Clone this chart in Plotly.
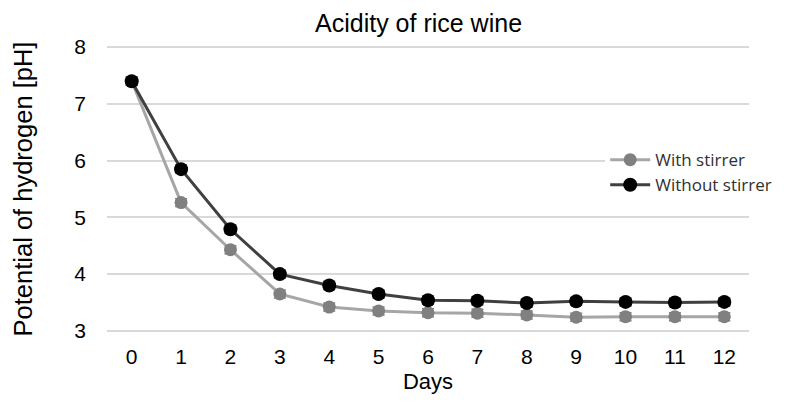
import plotly.graph_objects as go

days = list(range(13))
with_stirrer = [7.40, 5.26, 4.43, 3.65, 3.42, 3.35, 3.32, 3.31, 3.28, 3.24, 3.25, 3.25, 3.25]
without_stirrer = [7.40, 5.85, 4.79, 4.00, 3.80, 3.65, 3.54, 3.53, 3.49, 3.52, 3.51, 3.50, 3.51]
with_err = [0.07] * 13
without_err = [0.07] * 13

fig = go.Figure()
fig.add_trace(go.Scatter(
    x=days, y=with_stirrer, name="With stirrer", mode="lines+markers",
    line=dict(color="#a6a6a6", width=3),
    marker=dict(color="#808080", size=13),
    error_y=dict(type="data", array=with_err, color="#808080", thickness=1.5, width=6),
))
fig.add_trace(go.Scatter(
    x=days, y=without_stirrer, name="Without stirrer", mode="lines+markers",
    line=dict(color="#404040", width=3),
    marker=dict(color="#000000", size=14),
    error_y=dict(type="data", array=without_err, color="#404040", thickness=1.5, width=6),
))

# page body has an 8px margin: compensate so the plot lands at the reference position
fig.update_layout(
    width=779, height=397,
    margin=dict(l=99, r=38, t=38, b=73, autoexpand=False),
    paper_bgcolor="white", plot_bgcolor="white",
    font=dict(family="Liberation Sans, Arial, sans-serif", color="#000000"),
    title=dict(text="Acidity of rice wine", x=0.527, xanchor="center", y=0.962, yanchor="middle",
               font=dict(size=25, color="#000000")),
    showlegend=True,
    legend=dict(x=0.776, xanchor="left", y=0.664, yanchor="top",
                bgcolor="white", font=dict(family="Open Sans, sans-serif", size=17, color="#303030"),
                tracegroupgap=0, itemwidth=40),
)
fig.update_xaxes(
    range=[-0.5, 12.5], tickmode="array", tickvals=days, ticktext=[str(d) for d in days],
    showgrid=False, zeroline=False, showline=False, ticks="", ticklabelstandoff=10,
    tickfont=dict(size=21), title=dict(text="Days", font=dict(size=22), standoff=6),
)
fig.update_yaxes(
    range=[2.98, 8.02], tickvals=[3, 4, 5, 6, 7, 8], showgrid=True, gridcolor="#d9d9d9", gridwidth=1.5,
    zeroline=False, showline=False, ticks="", tickfont=dict(size=21), ticklabelstandoff=20,
    title=dict(text="Potential of hydrogen [pH]", font=dict(size=25.5), standoff=34),
)

fig.write_html("out.html")
